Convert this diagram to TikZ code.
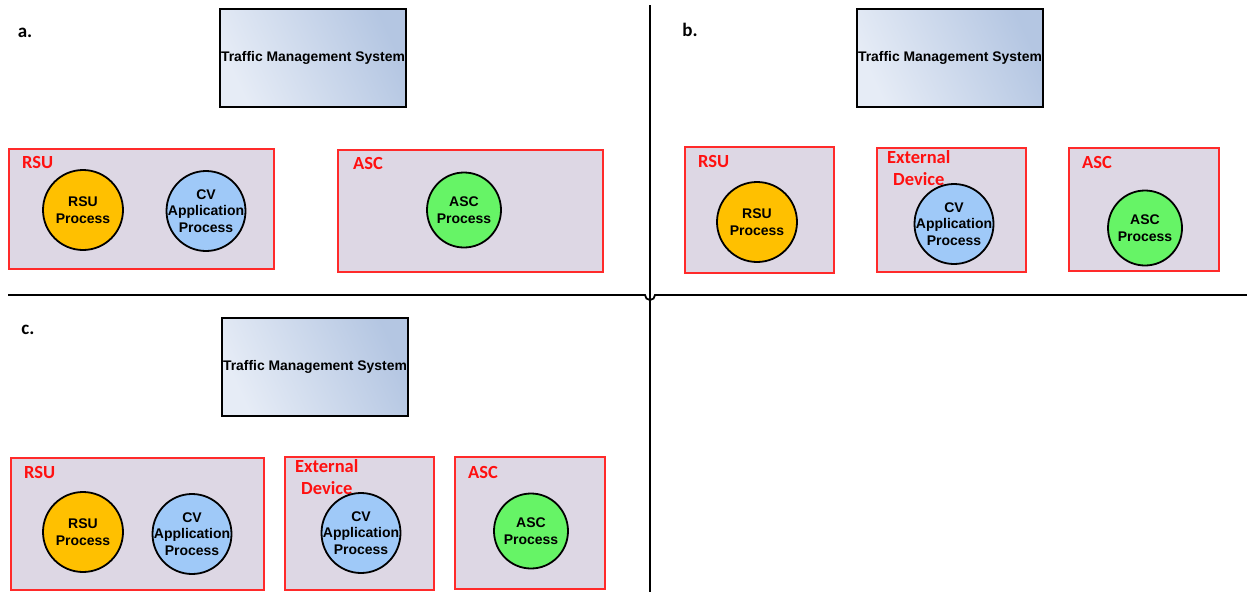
\documentclass[tikz,border=0pt]{standalone}
\usepackage{fontspec}
\setmainfont{Liberation Sans}
\newfontfamily\lblfont{Carlito}
\usetikzlibrary{shapes.geometric}
\definecolor{tmsL}{HTML}{E6ECF6}
\definecolor{tmsR}{HTML}{B4C6E2}
\definecolor{boxfill}{HTML}{DDD7E4}
\definecolor{boxred}{HTML}{FF2A2A}
\definecolor{lblred}{HTML}{FF1010}
\definecolor{rsuC}{HTML}{FFC000}
\definecolor{cvC}{HTML}{9FC9F8}
\definecolor{ascC}{HTML}{66F466}
\tikzset{
  tms/.style={draw=black, line width=1.8pt, left color=tmsL, right color=tmsR, shading angle=115, minimum width=186pt, minimum height=98pt, inner sep=0pt, font=\bfseries\fontsize{13.9}{15}\selectfont},
  grp/.style={draw=boxred, line width=1.3pt, fill=boxfill, inner sep=0pt},
  grplbl/.style={text=lblred, font=\lblfont\bfseries\fontsize{18.5}{22}\selectfont, anchor=west, inner sep=0pt, align=left},
  panel/.style={font=\lblfont\bfseries\fontsize{19}{22}\selectfont, inner sep=0pt},
  ptext/.style={inner sep=0pt, align=center, font=\bfseries\fontsize{14}{16.8}\selectfont},
  proc/.style={ellipse, draw=black, line width=1.8pt, inner sep=0pt},
  rsup/.style={proc, fill=rsuC, minimum width=80pt, minimum height=80pt},
  cvp/.style={proc, fill=cvC, minimum width=79pt, minimum height=80pt},
  ascp/.style={proc, fill=ascC, minimum width=74pt, minimum height=75pt},
  divider/.style={draw=black, line width=1.8pt}
}
\begin{document}
\begin{tikzpicture}[x=1pt, y=-1pt]
\useasboundingbox (0,0) rectangle (1247,592);
% dividers
\draw[divider] (650,5) -- (650,592);
\draw[divider] (8,295) -- (645,295) arc[start angle=180, end angle=0, radius=5] -- (1247,295);

% ---------- panel a ----------
\node[panel] (la) at (25,33) {a.};
\node[tms] (tmsa) at (313,58) {Traffic Management System};
\node[grp, minimum width=265pt, minimum height=120pt] (rsua) at (141.5,209) {};
\node[grplbl] (rsual) at (22,162) {RSU};
\node[rsup, label={[ptext]center:RSU\\Process}] (rpa) at (83,210) {};
\node[cvp, label={[ptext]center:CV\\Application\\Process}] (cva) at (206,211) {};
\node[grp, minimum width=265pt, minimum height=122pt] (asca) at (470.5,211) {};
\node[grplbl] (ascal) at (353,163) {ASC};
\node[ascp, label={[ptext]center:ASC\\Process}] (apa) at (464,210) {};

% ---------- panel b ----------
\node[panel] (lb) at (690,30) {b.};
\node[tms] (tmsb) at (950,58) {Traffic Management System};
\node[grp, minimum width=149pt, minimum height=126pt] (rsub) at (759.5,210) {};
\node[grplbl] (rsubl) at (698,161) {RSU};
\node[rsup, label={[ptext]center:RSU\\Process}] (rpb) at (757,222) {};
\node[grp, minimum width=149pt, minimum height=124pt] (extb) at (951.5,210) {};
\node[grplbl] (extbl) at (887,157) {External};
\node[grplbl] (extbl2) at (893,179) {Device};
\node[cvp, label={[ptext]center:CV\\Application\\Process}] (cvb) at (954,224) {};
\node[grp, minimum width=150pt, minimum height=123pt] (ascb) at (1144,209.5) {};
\node[grplbl] (ascbl) at (1082,162) {ASC};
\node[ascp, label={[ptext]center:ASC\\Process}] (apb) at (1145,228) {};

% ---------- panel c ----------
\node[panel] (lc) at (28,330) {c.};
\node[tms] (tmsc) at (315,367) {Traffic Management System};
\node[grp, minimum width=253pt, minimum height=132pt] (rsuc) at (137.5,524) {};
\node[grplbl] (rsucl) at (24,472) {RSU};
\node[rsup, label={[ptext]center:RSU\\Process}] (rpc) at (83,532) {};
\node[cvp, label={[ptext]center:CV\\Application\\Process}] (cvc1) at (192,534) {};
\node[grp, minimum width=149pt, minimum height=133pt] (extc) at (359.5,523.5) {};
\node[grplbl] (extcl) at (295,466) {External};
\node[grplbl] (extcl2) at (301,488) {Device};
\node[cvp, label={[ptext]center:CV\\Application\\Process}] (cvc2) at (361,533) {};
\node[grp, minimum width=150pt, minimum height=132pt] (ascc) at (530,523) {};
\node[grplbl] (asccl) at (468,472) {ASC};
\node[ascp, label={[ptext]center:ASC\\Process}] (apc) at (531,531) {};
\end{tikzpicture}
\end{document}
